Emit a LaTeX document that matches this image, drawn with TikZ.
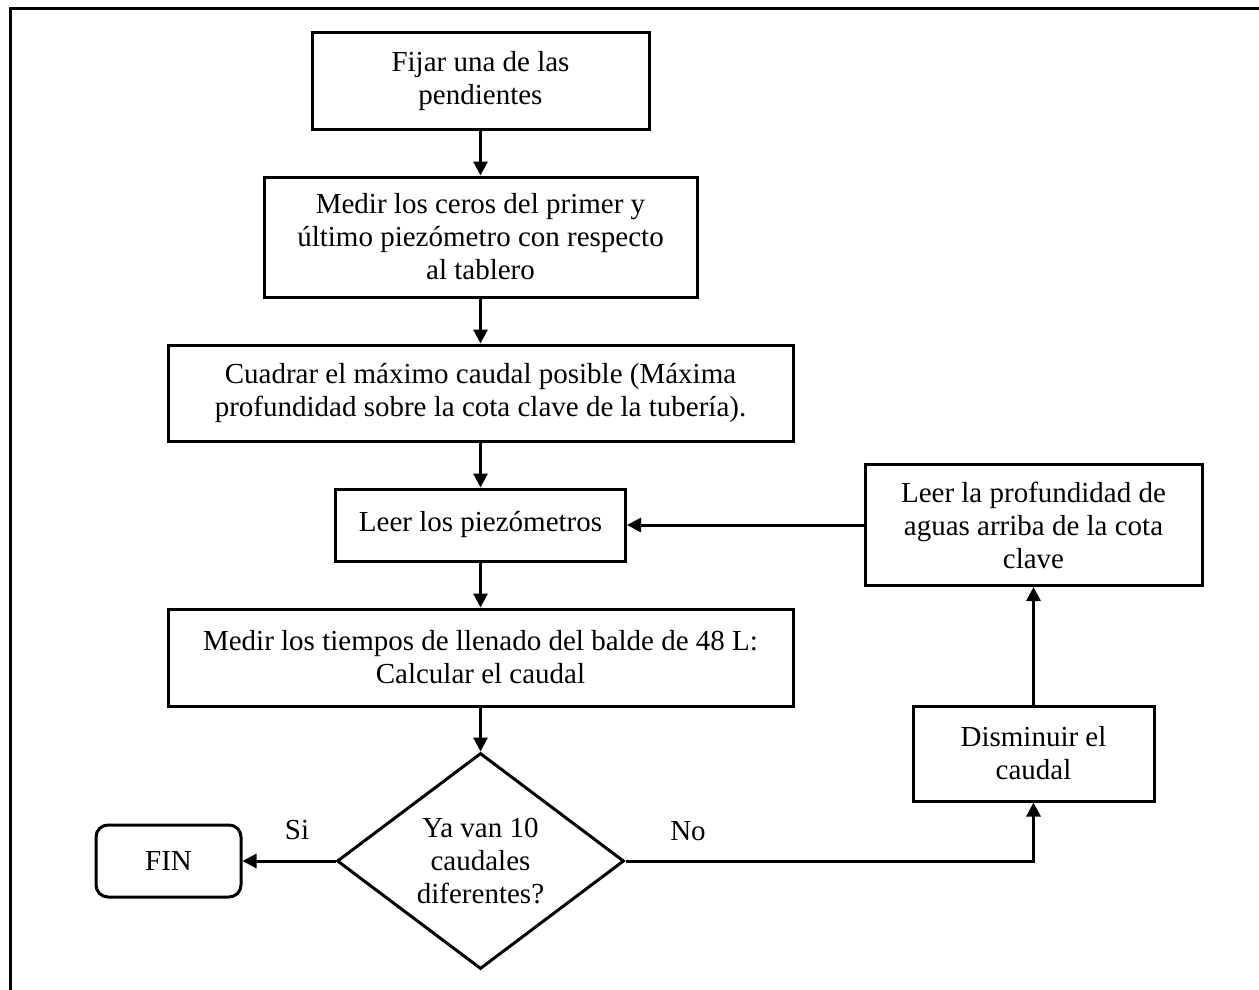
\documentclass[tikz,border=0pt]{standalone}
\usepackage{fontspec}
\setmainfont{Liberation Serif}
\usetikzlibrary{shapes.geometric,arrows.meta}
\begin{document}
\begin{tikzpicture}[x=1pt,y=-1pt,
  every node/.style={font=\fontsize{29}{33}\selectfont, align=center},
  procbox/.style={draw, line width=3pt, rectangle, inner sep=0pt},
  endbox/.style={draw, line width=3pt, rectangle, rounded corners=12pt, inner sep=0pt},
  decbox/.style={draw, line width=3pt, diamond, aspect=1.33, inner sep=0pt},
  conn/.style={line width=3pt, -{Triangle[length=14pt,width=14pt]}},
  lbl/.style={inner sep=0pt}]
\clip (0,0) rectangle (1259,990);
\useasboundingbox (0,0) rectangle (1259,990);
\draw[line width=3pt] (10,1000) -- (10,9) -- (1270,9);

\node[procbox, minimum width=337pt, minimum height=96pt] (b1) at (480.5,81) {Fijar una de las\\pendientes};
\node[procbox, minimum width=433pt, minimum height=120pt] (b2) at (480.5,237) {Medir los ceros del primer y\\último piezómetro con respecto\\al tablero};
\node[procbox, minimum width=625pt, minimum height=96pt] (b3) at (480.5,393) {Cuadrar el máximo caudal posible (Máxima\\profundidad sobre la cota clave de la tubería).};
\node[procbox, minimum width=290pt, minimum height=72pt] (b4) at (480.5,525) {Leer los piezómetros};
\node[procbox, minimum width=625pt, minimum height=97pt] (b5) at (480.5,657.5) {Medir los tiempos de llenado del balde de 48 L:\\Calcular el caudal};
\node[decbox, minimum width=287pt, minimum height=216pt] (d) at (480.5,861) {Ya van 10\\caudales\\diferentes?};
\node[endbox, minimum width=145pt, minimum height=72pt] (fin) at (168.5,861) {FIN};
\node[procbox, minimum width=337pt, minimum height=121pt] (r1) at (1033.5,525) {Leer la profundidad de\\aguas arriba de la cota\\clave};
\node[procbox, minimum width=241pt, minimum height=95pt] (dis) at (1033.5,753.5) {Disminuir el\\caudal};

\node[lbl] (si) at (297,830) {Si};
\node[lbl] (no) at (688,831) {No};

\draw[conn] (b1.south) -- (b2.north);
\draw[conn] (b2.south) -- (b3.north);
\draw[conn] (b3.south) -- (b4.north);
\draw[conn] (b4.south) -- (b5.north);
\draw[conn] (b5.south) -- (d.north);
\draw[conn] (d.west) -- (fin.east);
\draw[conn] (d.east) -| (dis.south);
\draw[conn] (dis.north) -- (r1.south);
\draw[conn] (r1.west) -- (b4.east);
\end{tikzpicture}
\end{document}
